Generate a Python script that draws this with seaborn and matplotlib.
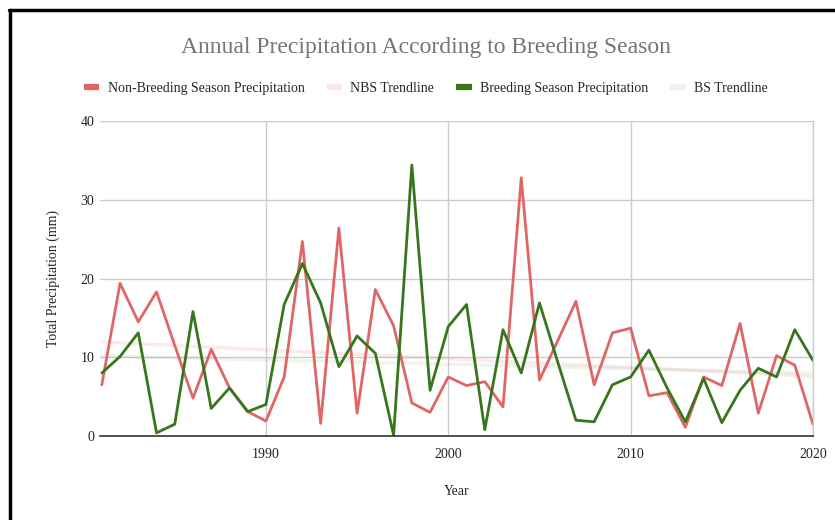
import seaborn as sns
import matplotlib.pyplot as plt
from matplotlib.lines import Line2D
import pandas as pd
import numpy as np

# data
years = list(range(1981, 2021))
nbs = [6.5, 19.4, 14.5, 18.3, 11.5, 4.8, 11.0, 6.1, 3.1, 1.9,
       7.5, 24.7, 1.6, 26.4, 2.9, 18.6, 14.0, 4.2, 3.0, 7.5,
       6.4, 6.9, 3.7, 32.8, 7.1, 12.1, 17.1, 6.5, 13.1, 13.7,
       5.1, 5.5, 1.1, 7.5, 6.4, 14.3, 2.9, 10.2, 9.0, 1.5]
bs = [8.0, 10.1, 13.1, 0.4, 1.5, 15.8, 3.5, 6.1, 3.1, 4.0,
      16.7, 21.9, 16.9, 8.8, 12.7, 10.5, 0.1, 34.4, 5.8, 13.9,
      16.7, 0.8, 13.5, 8.0, 16.9, 9.4, 2.0, 1.8, 6.5, 7.5,
      10.9, 6.1, 1.8, 7.3, 1.7, 5.8, 8.6, 7.5, 13.5, 9.6]
labels = ["Non-Breeding Season Precipitation", "NBS Trendline",
          "Breeding Season Precipitation", "BS Trendline"]

red = "#e06666"
green = "#38761d"

df = pd.DataFrame({"Year": years * 2,
                   "Precip": nbs + bs,
                   "Series": [labels[0]] * len(years) + [labels[2]] * len(years)})

sns.set_style("white")
plt.rcParams["font.family"] = ["Liberation Serif", "DejaVu Serif"]

fig = plt.figure(figsize=(8.35, 5.2), dpi=100)
ax = fig.add_axes([100 / 835, 1 - 436 / 520, 713 / 835, 315 / 520])

# trendlines (linear fit of each series)
sns.regplot(x=years, y=nbs, ax=ax, scatter=False, ci=None,
            line_kws=dict(color=red, alpha=0.13, lw=2.5))
sns.regplot(x=years, y=bs, ax=ax, scatter=False, ci=None,
            line_kws=dict(color=green, alpha=0.08, lw=2.5))

sns.lineplot(data=df, x="Year", y="Precip", hue="Series", ax=ax,
             palette={labels[0]: red, labels[2]: green}, lw=2, legend=False)

ax.set_xlim(1980.9, 2020)
ax.set_ylim(0, 40)
ax.set_xticks([1990, 2000, 2010, 2020])
ax.set_yticks([0, 10, 20, 30, 40])
ax.grid(True, color="#cccccc", lw=1)
ax.set_axisbelow(True)
for s in ["top", "left"]:
    ax.spines[s].set_visible(False)
ax.spines["right"].set_color("#cccccc")
ax.spines["right"].set_linewidth(1)
ax.spines["bottom"].set_color("#333333")
ax.spines["bottom"].set_linewidth(1.2)
ax.tick_params(axis="both", length=0, labelsize=10, colors="#222222")
ax.tick_params(axis="y", pad=4)
ax.tick_params(axis="x", pad=9)
ax.set_xlabel("Year", fontsize=10, labelpad=17, color="#222222")
ax.set_ylabel("Total Precipitation (mm)", fontsize=10, labelpad=15, color="#222222")

fig.text(0.51, 1 - 48 / 520, "Annual Precipitation According to Breeding Season",
         ha="center", va="center", fontsize=17, color="#757575")

handles = [Line2D([], [], color=red, lw=4.5, solid_capstyle="butt"),
           Line2D([], [], color="#fbe8e8", lw=4.5, solid_capstyle="butt"),
           Line2D([], [], color=green, lw=4.5, solid_capstyle="butt"),
           Line2D([], [], color="#eef3ec", lw=4.5, solid_capstyle="butt")]
fig.legend(handles, labels, loc="center", bbox_to_anchor=(0.51, 1 - 88 / 520),
           ncol=4, frameon=False, fontsize=10, handlelength=1.1,
           handletextpad=0.6, columnspacing=1.6)

# frame on the left and top edges
fig.add_artist(Line2D([9.5 / 835, 9.5 / 835], [0, 1 - 10 / 520], color="black", lw=2.5,
                      transform=fig.transFigure))
fig.add_artist(Line2D([8.5 / 835, 1], [1 - 10 / 520, 1 - 10 / 520], color="black", lw=2.5,
                      transform=fig.transFigure))

fig.savefig("out.png", dpi=100)
